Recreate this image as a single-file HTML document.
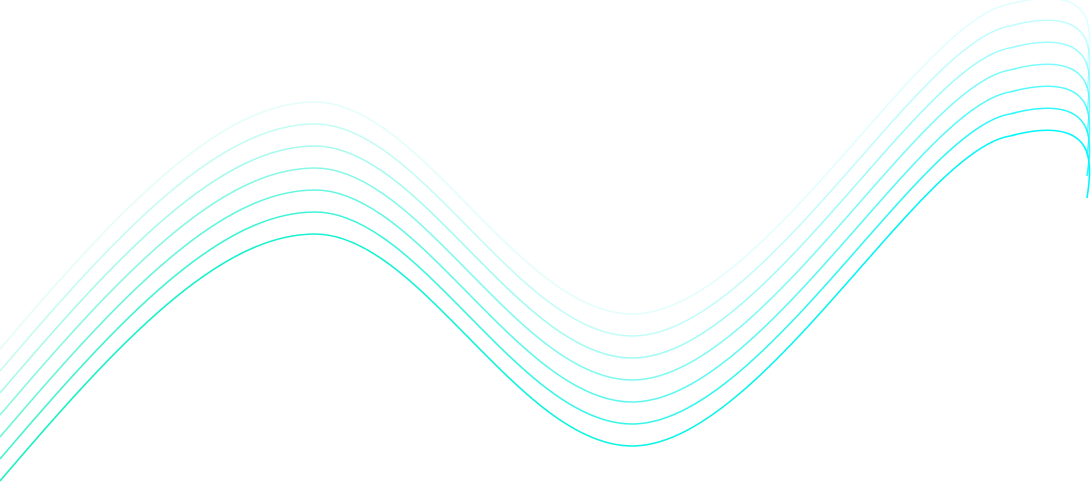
<!DOCTYPE html>
<html>
<head>
<meta charset="utf-8">
<style>
html,body{margin:0;padding:0;background:#fff;}
svg{display:block;}
</style>
</head>
<body>
<svg id="chart" width="1091" height="483" viewBox="0 0 1091 483" xmlns="http://www.w3.org/2000/svg">
  <defs>
    <linearGradient id="waveGrad" x1="0" y1="0" x2="1091" y2="0" gradientUnits="userSpaceOnUse">
      <stop offset="0" stop-color="#1ef0bf"/>
      <stop offset="1" stop-color="#00f6ff"/>
    </linearGradient>
  </defs>
  <g id="lines"></g>
</svg>
<script>
const lineOffsets = [0, 22, 44, 66, 88, 110, 132];
const lineOpacities = [1, 0.82, 0.66, 0.52, 0.38, 0.25, 0.12];
const basePath = "M0,481 C120,340 220,234 315,234 C420,234 520,446 632,446 C760,446 920,150 1010,136 C1040,128 1075,125 1086,150 C1092,165 1089,185 1087,198";
const g = document.getElementById('lines');
const ns = "http://www.w3.org/2000/svg";
lineOffsets.forEach(function(off, i){
  const p = document.createElementNS(ns, 'path');
  p.setAttribute('d', basePath);
  p.setAttribute('transform', 'translate(0,' + (-off) + ')');
  p.setAttribute('fill', 'none');
  p.setAttribute('stroke', 'url(#waveGrad)');
  p.setAttribute('stroke-width', '1.6');
  p.setAttribute('stroke-opacity', lineOpacities[i]);
  
  
  g.appendChild(p);
});
</script>
</body>
</html>
